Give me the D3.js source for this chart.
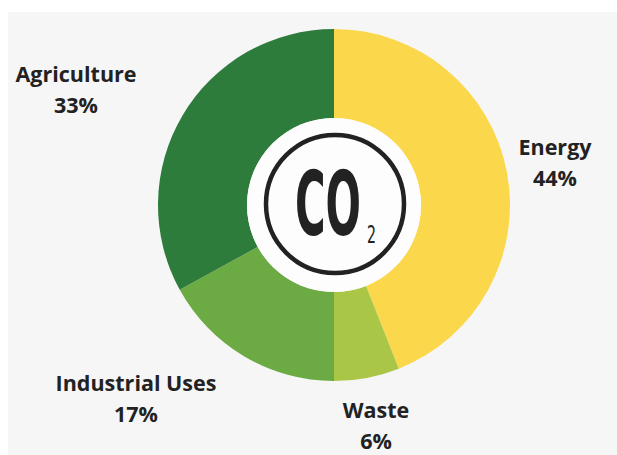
<!DOCTYPE html>
<html lang="en">
<head>
<meta charset="UTF-8">
<title>CO2 emissions by sector</title>
<script src="https://d3js.org/d3.v7.min.js"></script>
<style>
  body { margin: 0; background: #ffffff; }
  .label { font-family: "Open Sans", sans-serif; font-weight: 700; font-size: 21.5px; fill: #222; text-anchor: middle; }
</style>
</head>
<body>
<div id="chart"></div>
<script>
  // Data
  var sectors = ["Energy", "Waste", "Industrial Uses", "Agriculture"];
  var shares = [44, 6, 17, 33];
  var colors = ["#fbd84b", "#a9c646", "#6caa43", "#2e7c3b"];

  // Layout
  var W = 617, H = 455;
  var cx = 334, cy = 205;
  var outerR = 176, innerR = 87;

  // label anchors, offset from centre of the pie
  var labelPos = {
    "Energy": [221, -50],
    "Waste": [42, 213],
    "Industrial Uses": [-198, 186],
    "Agriculture": [-258, -123]
  };

  var svg = d3.select("#chart").append("svg")
      .attr("width", W)
      .attr("height", H);

  // light grey panel
  svg.append("rect")
      .attr("x", 8).attr("y", 12)
      .attr("width", W - 8).attr("height", H - 12)
      .attr("fill", "#f6f6f6");

  var g = svg.append("g")
      .attr("transform", "translate(" + cx + "," + cy + ")");

  var data = sectors.map(function(s, i) { return { name: s, value: shares[i], color: colors[i] }; });

  var pie = d3.pie()
      .sort(null)
      .value(function(d) { return d.value; });

  var arc = d3.arc()
      .innerRadius(innerR)
      .outerRadius(outerR);

  g.selectAll("path.slice")
    .data(pie(data))
    .enter()
    .append("path")
      .attr("class", "slice")
      .attr("d", arc)
      .attr("fill", function(d) { return d.data.color; });

  // white centre with the CO2 badge
  g.append("circle")
      .attr("r", innerR)
      .attr("fill", "#fdfdfd");

  g.append("circle")
      .attr("cx", 1).attr("cy", -1)
      .attr("r", 69)
      .attr("fill", "none")
      .attr("stroke", "#222")
      .attr("stroke-width", 4.5);

  // condensed "CO": squeeze horizontally to the wanted width
  function squeezed(str, x, y, size, weight, width) {
    var t = g.append("text")
        .attr("font-family", "'Liberation Sans Narrow', 'DejaVu Sans Condensed', sans-serif")
        .attr("font-weight", weight)
        .attr("font-size", size)
        .attr("fill", "#222")
        .text(str);
    var len = t.node().getComputedTextLength();
    t.attr("transform", "translate(" + x + "," + y + ") scale(" + (width / len) + ",1)");
    return t;
  }

  squeezed("CO", -39, 30, 89, 700, 66);
  squeezed("2", 33, 38, 25, 400, 9);

  // labels
  var labels = g.selectAll("text.label")
    .data(data)
    .enter()
    .append("text")
      .attr("class", "label")
      .attr("transform", function(d) { var p = labelPos[d.name]; return "translate(" + p[0] + "," + p[1] + ")"; });

  labels.append("tspan")
      .attr("x", 0).attr("y", 0)
      .text(function(d) { return d.name; });

  labels.append("tspan")
      .attr("x", 0).attr("y", 31)
      .text(function(d) { return d.value + "%"; });
</script>
</body>
</html>
